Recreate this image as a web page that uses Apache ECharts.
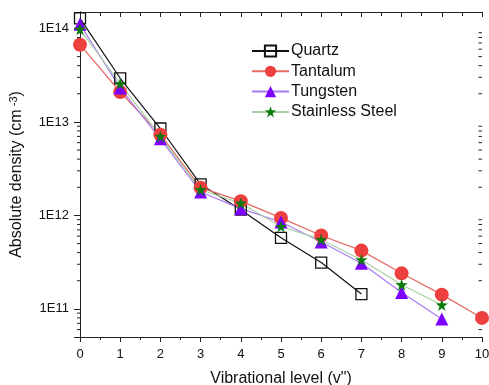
<!DOCTYPE html>
<html>
<head>
<meta charset="utf-8">
<script src="https://cdn.jsdelivr.net/npm/echarts@6/dist/echarts.min.js"></script>
<style>html,body{margin:0;padding:0;background:#fff;}#c{width:489px;height:385px;}</style>
</head>
<body>
<div id="c"></div>
<script>
var levels = [0, 1, 2, 3, 4, 5, 6, 7, 8, 9, 10];
var quartz = [1.28e14, 2.93e13, 8.5e12, 2.15e12, 1.15e12, 5.75e11, 3.13e11, 1.44e11];
var tantalum = [6.7e13, 2.09e13, 7.3e12, 1.98e12, 1.42e12, 9.4e11, 6.1e11, 4.2e11, 2.4e11, 1.42e11, 8.0e10];
var tungsten = [1.11e14, 2.3e13, 6.6e12, 1.78e12, 1.18e12, 8.5e11, 5.2e11, 3.08e11, 1.5e11, 7.8e10];
var steel = [0.98e14, 2.57e13, 7.0e12, 1.88e12, 1.35e12, 7.6e11, 5.5e11, 3.35e11, 1.81e11, 1.1e11];
var seriesNames = ['Quartz', 'Tantalum', 'Tungsten', 'Stainless Steel'];
var yMin = 5e10, yMax = 1.5e14, xMin = 0, xMax = 10;

function pairs(arr) { return arr.map(function (v, i) { return [levels[i], v]; }); }

// minor log ticks (2..9 per decade) inside the axis range
var minorTicks = [];
[10, 11, 12, 13].forEach(function (d) {
  [2, 3, 4, 5, 6, 7, 8, 9].forEach(function (m) {
    var v = m * Math.pow(10, d);
    if (v > yMin && v < yMax) minorTicks.push(v);
  });
});

var axisColor = '#222';
var font = 'Liberation Sans, Arial, sans-serif';

var chart = echarts.init(document.getElementById('c'), null, { renderer: 'canvas' });
chart.setOption({
  animation: false,
  backgroundColor: '#fff',
  textStyle: { fontFamily: font },
  grid: { left: 80, right: 7, top: 12, bottom: 48, containLabel: false, outerBoundsMode: 'none' },
  legend: {
    data: seriesNames,
    orient: 'vertical',
    left: 246,
    top: 38,
    itemWidth: 37,
    itemHeight: 14,
    itemGap: 4.3,
    textStyle: { fontSize: 16, color: '#111', fontFamily: font, padding: [0, 0, 0, -3] }
  },
  xAxis: [{
    type: 'value', min: xMin, max: xMax, interval: 1,
    name: 'Vibrational level (v")', nameLocation: 'middle', nameGap: 34,
    nameTextStyle: { fontSize: 16, color: '#111', fontFamily: font },
    axisLine: { show: true, lineStyle: { color: axisColor, width: 1 } },
    axisTick: { show: true, inside: false, length: 5, lineStyle: { color: axisColor } },
    minorTick: { show: true, splitNumber: 2, length: 3, lineStyle: { color: axisColor } },
    axisLabel: { fontSize: 13, color: '#111', margin: 11, fontFamily: font },
    splitLine: { show: false }
  }, {
    type: 'value', position: 'top', min: xMin, max: xMax, interval: 1,
    axisLine: { show: true, lineStyle: { color: axisColor, width: 1 } },
    axisTick: { show: true, inside: true, length: 5, lineStyle: { color: axisColor } },
    minorTick: { show: true, splitNumber: 2, length: 4, lineStyle: { color: axisColor } },
    axisLabel: { show: false },
    splitLine: { show: false }
  }],
  yAxis: [{
    type: 'log', logBase: 10, min: yMin, max: yMax,
    name: 'Absolute density (cm{sup| -3})', nameLocation: 'middle', nameGap: 49, nameRotate: 90,
    nameTextStyle: {
      fontSize: 16, color: '#111', fontFamily: font,
      rich: { sup: { fontSize: 11, verticalAlign: 'top', color: '#111', fontFamily: font, lineHeight: 12, padding: [0, 0, 8, 0] } }
    },
    axisLine: { show: true, lineStyle: { color: axisColor, width: 1 } },
    axisTick: { show: true, inside: false, length: 4, lineStyle: { color: axisColor } },
    axisLabel: {
      fontSize: 13, color: '#111', margin: 11, fontFamily: font,
      formatter: function (v) {
        var l = Math.log10(v);
        if (Math.abs(l - Math.round(l)) > 1e-6) return '';
        return '1E' + Math.round(l);
      }
    },
    splitLine: { show: false }
  }, {
    type: 'log', logBase: 10, min: yMin, max: yMax, position: 'right',
    axisLine: { show: true, lineStyle: { color: axisColor, width: 1 } },
    axisTick: { show: true, inside: true, length: 6, lineStyle: { color: axisColor } },
    axisLabel: { show: false },
    splitLine: { show: false }
  }],
  series: [{
    name: 'minorTicks', type: 'custom', xAxisIndex: 0, yAxisIndex: 0, silent: true, clip: false, z: 1,
    data: minorTicks.map(function (v) { return [xMin, v]; }),
    renderItem: function (params, api) {
      var v = api.value(1);
      var pl = api.coord([xMin, v]);
      var pr = api.coord([xMax, v]);
      var st = { stroke: axisColor, lineWidth: 1 };
      return {
        type: 'group', children: [
          { type: 'line', shape: { x1: pl[0] - 3, y1: pl[1], x2: pl[0], y2: pl[1] }, style: st },
          { type: 'line', shape: { x1: pr[0] - 3.5, y1: pr[1], x2: pr[0], y2: pr[1] }, style: st }
        ]
      };
    }
  }, {
    name: 'Quartz', type: 'line', data: pairs(quartz), z: 3,
    symbol: 'rect', symbolSize: 11,
    lineStyle: { color: '#111', width: 1.2 },
    itemStyle: { color: 'rgba(255,255,255,0)', borderColor: '#111', borderWidth: 1.3 }
  }, {
    name: 'Tantalum', type: 'line', data: pairs(tantalum), z: 3,
    symbol: 'circle', symbolSize: 14,
    lineStyle: { color: '#e46a62', width: 1.2 },
    itemStyle: { color: '#ee3f3f', borderWidth: 0 }
  }, {
    name: 'Tungsten', type: 'line', data: pairs(tungsten), z: 3,
    symbol: 'triangle', symbolSize: 13,
    lineStyle: { color: '#a77af5', width: 1.2 },
    itemStyle: { color: '#7b00ff', borderWidth: 0 }
  }, {
    name: 'Stainless Steel', type: 'line', data: pairs(steel), z: 3,
    symbol: 'path://M50,0 L61.8,36.2 L100,38.2 L69.1,61.8 L80.9,100 L50,76.4 L19.1,100 L30.9,61.8 L0,38.2 L38.2,36.2 Z',
    symbolSize: 12,
    lineStyle: { color: '#a9cfa5', width: 1.2 },
    itemStyle: { color: '#0b7a0b', borderWidth: 0 }
  }]
});
</script>
</body>
</html>
